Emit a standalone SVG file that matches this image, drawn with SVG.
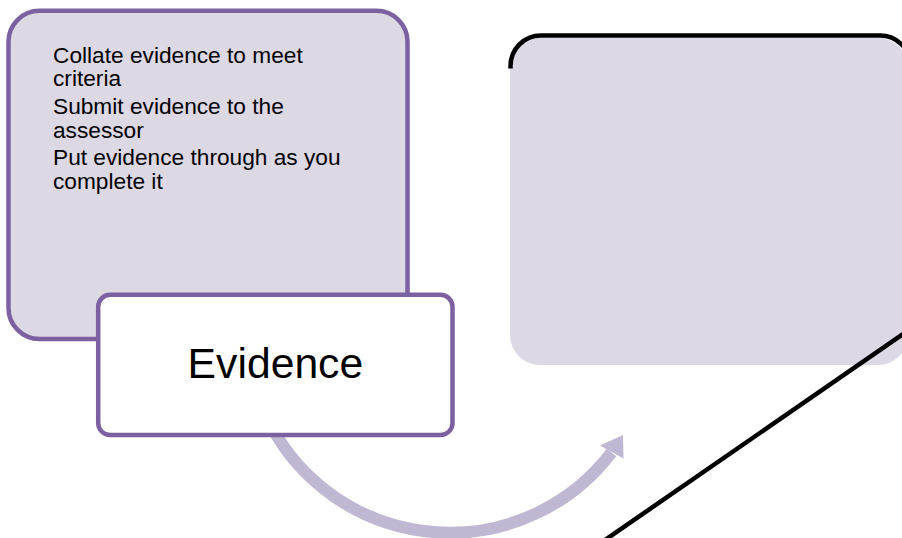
<svg xmlns="http://www.w3.org/2000/svg" width="902" height="538" viewBox="0 0 902 538">
<style>
.txt{font-family:"Liberation Sans",Arial,sans-serif;fill:#000}
.bullet{font-size:22.7px}
.title{font-size:42.7px}
.panel{fill:#DCD8E4}
.purple{stroke:#7D60A0;stroke-width:4.5}
.black{fill:none;stroke:#000;stroke-width:4.5}
</style>
<rect width="902" height="538" fill="#fff"/>
<g id="connectors">
<path d="M 270.6 425 A 203 203 0 0 0 611.5 452.5" fill="none" stroke="#C0B8D2" stroke-width="12"/>
<polygon points="600,445.5 623,435 623.5,458.5" fill="#C0B8D2"/>
</g>
<g id="node-details">
<rect class="panel purple" x="8.5" y="10.8" width="399" height="328.2" rx="31"/>
<text class="txt bullet" x="53" y="62.7">Collate evidence to meet</text>
<text class="txt bullet" x="53" y="86.2">criteria</text>
<text class="txt bullet" x="53" y="114">Submit evidence to the</text>
<text class="txt bullet" x="53" y="137.5">assessor</text>
<text class="txt bullet" x="53" y="165.3">Put evidence through as you</text>
<text class="txt bullet" x="53" y="188.8">complete it</text>
</g>
<g id="node-evidence">
<rect class="purple" fill="#fff" x="98.2" y="294.8" width="354.3" height="140.2" rx="12"/>
<text class="txt title" x="275.4" y="378.3" text-anchor="middle">Evidence</text>
</g>
<g id="node-next">
<rect class="panel" x="510" y="38" width="398" height="327" rx="30"/>
<path class="black" d="M 510.5 68.5 L 510.5 66 A 30.5 30.5 0 0 1 541 35.5 L 880 35.5 A 30.5 30.5 0 0 1 910.5 66"/>
<line class="black" x1="605" y1="540" x2="906" y2="332" stroke-width="4"/>
</g>
</svg>
